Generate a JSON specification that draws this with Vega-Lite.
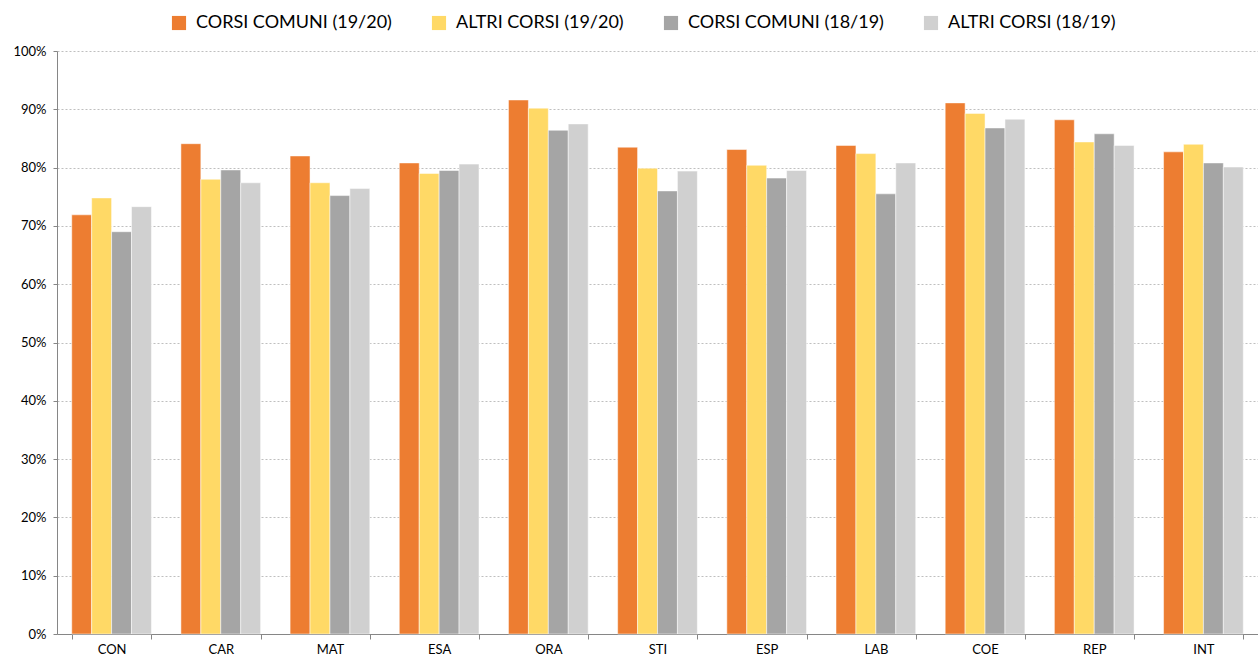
{
  "$schema": "https://vega.github.io/schema/vega-lite/v6.json",
  "autosize": {"type": "none"},
  "width": 1201,
  "height": 583,
  "padding": {"left": 57, "top": 51, "right": 0, "bottom": 25},
  "background": "white",
  "config": {
    "font": "Lato",
    "view": {"stroke": null}
  },
  "data": {
    "values": [
      {"cat": "CON", "serie": "CORSI COMUNI (19/20)", "value": 0.719},
      {"cat": "CON", "serie": "ALTRI CORSI (19/20)", "value": 0.748},
      {"cat": "CON", "serie": "CORSI COMUNI (18/19)", "value": 0.690},
      {"cat": "CON", "serie": "ALTRI CORSI (18/19)", "value": 0.733},
      {"cat": "CAR", "serie": "CORSI COMUNI (19/20)", "value": 0.841},
      {"cat": "CAR", "serie": "ALTRI CORSI (19/20)", "value": 0.780},
      {"cat": "CAR", "serie": "CORSI COMUNI (18/19)", "value": 0.796},
      {"cat": "CAR", "serie": "ALTRI CORSI (18/19)", "value": 0.774},
      {"cat": "MAT", "serie": "CORSI COMUNI (19/20)", "value": 0.820},
      {"cat": "MAT", "serie": "ALTRI CORSI (19/20)", "value": 0.774},
      {"cat": "MAT", "serie": "CORSI COMUNI (18/19)", "value": 0.752},
      {"cat": "MAT", "serie": "ALTRI CORSI (18/19)", "value": 0.764},
      {"cat": "ESA", "serie": "CORSI COMUNI (19/20)", "value": 0.808},
      {"cat": "ESA", "serie": "ALTRI CORSI (19/20)", "value": 0.790},
      {"cat": "ESA", "serie": "CORSI COMUNI (18/19)", "value": 0.795},
      {"cat": "ESA", "serie": "ALTRI CORSI (18/19)", "value": 0.806},
      {"cat": "ORA", "serie": "CORSI COMUNI (19/20)", "value": 0.916},
      {"cat": "ORA", "serie": "ALTRI CORSI (19/20)", "value": 0.902},
      {"cat": "ORA", "serie": "CORSI COMUNI (18/19)", "value": 0.864},
      {"cat": "ORA", "serie": "ALTRI CORSI (18/19)", "value": 0.875},
      {"cat": "STI", "serie": "CORSI COMUNI (19/20)", "value": 0.835},
      {"cat": "STI", "serie": "ALTRI CORSI (19/20)", "value": 0.799},
      {"cat": "STI", "serie": "CORSI COMUNI (18/19)", "value": 0.760},
      {"cat": "STI", "serie": "ALTRI CORSI (18/19)", "value": 0.794},
      {"cat": "ESP", "serie": "CORSI COMUNI (19/20)", "value": 0.831},
      {"cat": "ESP", "serie": "ALTRI CORSI (19/20)", "value": 0.804},
      {"cat": "ESP", "serie": "CORSI COMUNI (18/19)", "value": 0.782},
      {"cat": "ESP", "serie": "ALTRI CORSI (18/19)", "value": 0.795},
      {"cat": "LAB", "serie": "CORSI COMUNI (19/20)", "value": 0.838},
      {"cat": "LAB", "serie": "ALTRI CORSI (19/20)", "value": 0.824},
      {"cat": "LAB", "serie": "CORSI COMUNI (18/19)", "value": 0.755},
      {"cat": "LAB", "serie": "ALTRI CORSI (18/19)", "value": 0.808},
      {"cat": "COE", "serie": "CORSI COMUNI (19/20)", "value": 0.911},
      {"cat": "COE", "serie": "ALTRI CORSI (19/20)", "value": 0.893},
      {"cat": "COE", "serie": "CORSI COMUNI (18/19)", "value": 0.868},
      {"cat": "COE", "serie": "ALTRI CORSI (18/19)", "value": 0.883},
      {"cat": "REP", "serie": "CORSI COMUNI (19/20)", "value": 0.882},
      {"cat": "REP", "serie": "ALTRI CORSI (19/20)", "value": 0.844},
      {"cat": "REP", "serie": "CORSI COMUNI (18/19)", "value": 0.858},
      {"cat": "REP", "serie": "ALTRI CORSI (18/19)", "value": 0.838},
      {"cat": "INT", "serie": "CORSI COMUNI (19/20)", "value": 0.827},
      {"cat": "INT", "serie": "ALTRI CORSI (19/20)", "value": 0.840},
      {"cat": "INT", "serie": "CORSI COMUNI (18/19)", "value": 0.808},
      {"cat": "INT", "serie": "ALTRI CORSI (18/19)", "value": 0.801}
    ]
  },
  "mark": {"type": "bar", "stroke": "white", "strokeWidth": 0.5},
  "encoding": {
    "x": {
      "field": "cat",
      "type": "nominal",
      "sort": null,
      "title": null,
      "scale": {"paddingInner": 0.27, "paddingOuter": 0.135},
      "axis": {
        "labelAngle": 0,
        "labelFontSize": 13,
        "labelColor": "#000000",
        "labelPadding": 4,
        "tickBand": "extent",
        "tickSize": 5,
        "tickColor": "#868686",
        "domainColor": "#868686",
        "domainWidth": 1
      }
    },
    "xOffset": {
      "field": "serie",
      "type": "nominal",
      "sort": ["CORSI COMUNI (19/20)", "ALTRI CORSI (19/20)", "CORSI COMUNI (18/19)", "ALTRI CORSI (18/19)"],
      "scale": {"paddingInner": 0, "paddingOuter": 0}
    },
    "y": {
      "field": "value",
      "type": "quantitative",
      "title": null,
      "scale": {"domain": [0, 1], "nice": false},
      "axis": {
        "values": [0, 0.1, 0.2, 0.3, 0.4, 0.5, 0.6, 0.7, 0.8, 0.9, 1],
        "format": ".0%",
        "labelFontSize": 13,
        "labelColor": "#000000",
        "labelPadding": 7,
        "tickSize": 4,
        "tickColor": "#868686",
        "domainColor": "#868686",
        "domainWidth": 1,
        "grid": true,
        "gridColor": "#BFBFBF",
        "gridDash": [2, 2],
        "gridWidth": 1
      }
    },
    "color": {
      "field": "serie",
      "type": "nominal",
      "sort": ["CORSI COMUNI (19/20)", "ALTRI CORSI (19/20)", "CORSI COMUNI (18/19)", "ALTRI CORSI (18/19)"],
      "scale": {
        "domain": ["CORSI COMUNI (19/20)", "ALTRI CORSI (19/20)", "CORSI COMUNI (18/19)", "ALTRI CORSI (18/19)"],
        "range": ["#ED7D31", "#FFD966", "#A5A5A5", "#D0D0D0"]
      },
      "legend": {
        "title": null,
        "orient": "none",
        "legendX": 113,
        "legendY": -37,
        "direction": "horizontal",
        "columns": 4,
        "columnPadding": 38,
        "symbolType": "square",
        "symbolSize": 200,
        "symbolStrokeWidth": 0,
        "labelFontSize": 18,
        "labelColor": "#000000",
        "labelOffset": 8,
        "labelLimit": 400
      }
    }
  }
}
